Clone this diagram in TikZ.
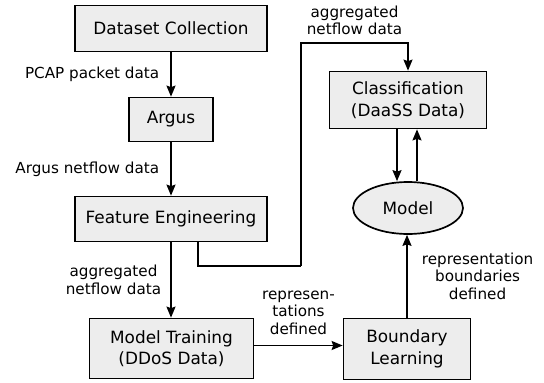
\documentclass[tikz,border=0pt]{standalone}
\usepackage{fontspec}
\setmainfont{DejaVu Sans}
\usepackage{xcolor}
\usetikzlibrary{arrows.meta,positioning,shapes.geometric}

\tikzset{
  stage/.style={draw, fill=black!7, line width=1.7pt, align=center, inner sep=0pt, font=\fontsize{16.9}{21.6}\selectfont},
  flow/.style={line width=1.7pt, -{Stealth[length=11pt,width=9pt,inset=1.5pt]}},
  tag/.style={align=center, inner sep=0pt, font=\fontsize{15.2}{17.5}\selectfont},
}

\begin{document}
\begin{tikzpicture}[x=1pt,y=-1pt]
    \useasboundingbox (0,0) rectangle (544,383);
    % Left column
    \node[stage, minimum width=192pt, minimum height=46pt] (collect) at (171,28.5) {Dataset Collection};
    \node[stage, minimum width=84pt, minimum height=44pt] (argus) at (171,119.5) {Argus};
    \node[stage, minimum width=192pt, minimum height=45pt] (feature) at (171,219) {Feature Engineering};
    \node[stage, minimum width=164pt, minimum height=60pt] (training) at (171.5,348.5) {Model Training\\(DDoS Data)};
    % Right column
    \node[stage, minimum width=157pt, minimum height=57pt] (classif) at (408,100) {Classification\\(DaaSS Data)};
    \node[stage, ellipse, minimum width=110pt, minimum height=52pt] (model) at (408,208) {Model};
    \node[stage, minimum width=127pt, minimum height=61pt] (boundary) at (407,349) {Boundary\\Learning};
    \coordinate (bendlow) at (301,266);
    \coordinate (bendhigh) at (301,43);

    \draw[flow] (collect) -- node[tag, left=11pt] {PCAP packet data} (argus);
    \draw[flow] (argus) -- node[tag, left=11pt] {Argus netflow data} (feature);
    \draw[flow] (feature) -- node[tag, left=9pt] {aggregated\\netflow data} (training.north -| feature.south);
    \draw[line width=1.7pt] ([xshift=27pt]feature.south) |- (bendlow);
    \draw[flow] (bendlow) -- (bendhigh) -- node[tag, above=7pt] {aggregated\\netflow data} (bendhigh -| classif.north) -- (classif.north);
    \draw[flow] ([yshift=3pt]training.east) -- node[tag, above=10pt] {represen-\\tations\\defined} ([yshift=3pt]training.east -| boundary.west);
    \draw[flow] (boundary.north) -- node[tag, right=14pt] {representation\\boundaries\\defined} (boundary.north |- model.south);
    \draw[flow] ([xshift=-11pt]classif.south) -- ([xshift=-11pt]model.north);
    \draw[flow] ([xshift=9pt]model.north) -- ([xshift=9pt]classif.south);
\end{tikzpicture}
\end{document}
